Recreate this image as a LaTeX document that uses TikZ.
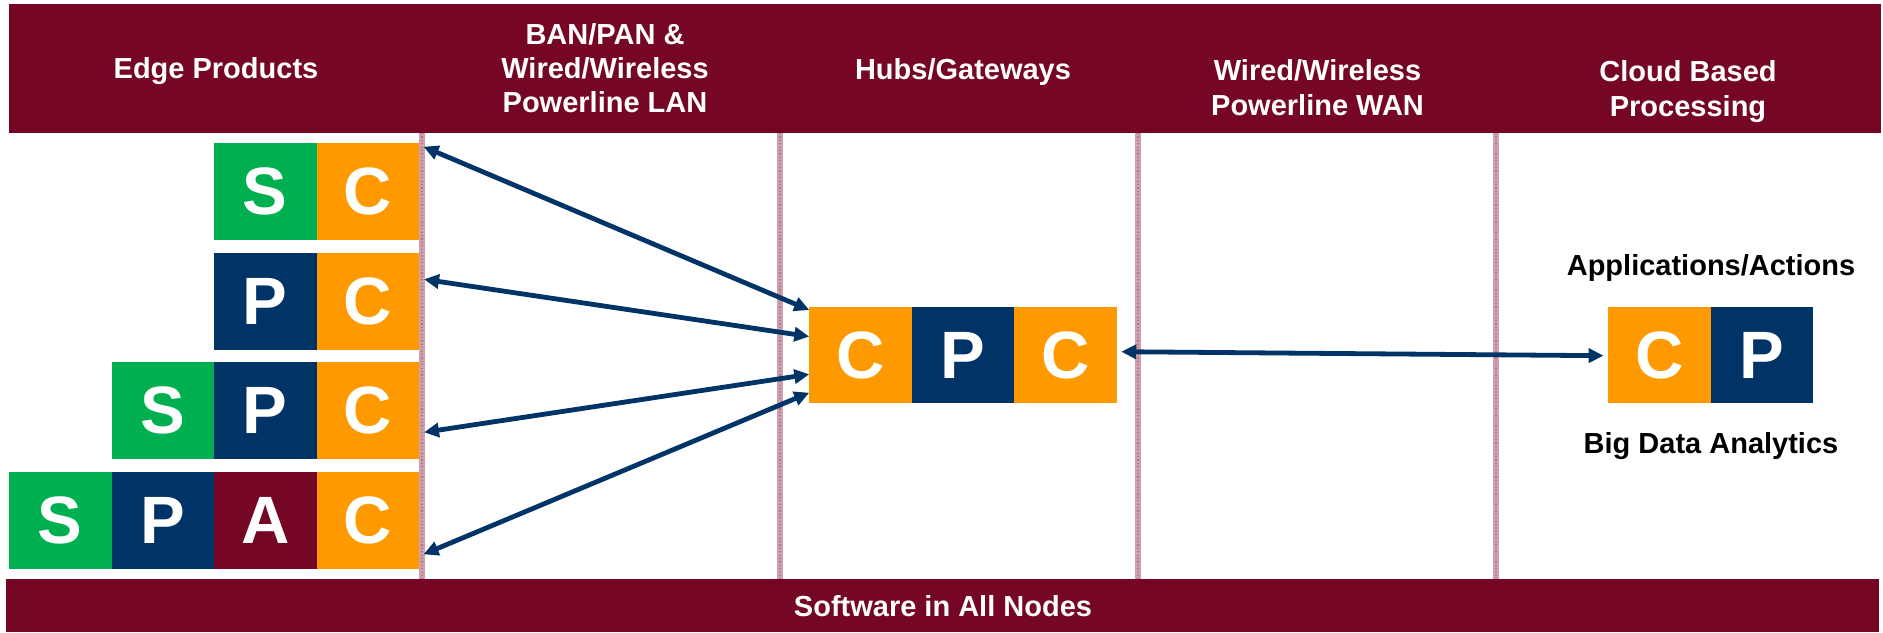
\documentclass[tikz,border=0pt]{standalone}
\usepackage{fontspec}
\setmainfont{Liberation Sans}
\usetikzlibrary{arrows.meta}

\definecolor{wine}{RGB}{117,6,36}
\definecolor{navy}{RGB}{0,51,102}
\definecolor{amber}{RGB}{255,153,0}
\definecolor{leaf}{RGB}{0,176,80}
\definecolor{rule}{RGB}{205,160,170}

\tikzset{
  cell/.style={minimum width=51.25pt, minimum height=48.25pt, inner sep=0pt,
    outer sep=0pt, text=white, font=\bfseries\fontsize{33.5}{36}\selectfont},
  sensor/.style={cell, fill=leaf},
  proc/.style={cell, fill=navy},
  act/.style={cell, fill=wine},
  comm/.style={cell, fill=amber},
  title/.style={text=white, inner sep=0pt, anchor=base,
    font=\bfseries\fontsize{14.5}{17}\selectfont},
  caption/.style={title, text=black},
  link/.style={draw=navy, line width=2.4pt,
    {Triangle[length=7.5pt,width=7pt]}-{Triangle[length=7.5pt,width=7pt]}},
  divider/.style={draw=rule, line width=2.6pt},
  dividerdots/.style={draw=wine!55, line width=1.1pt, dash pattern=on 0.6pt off 1.1pt}
}

\begin{document}
\begin{tikzpicture}[x=0.5pt, y=-0.5pt]
\useasboundingbox (0,0) rectangle (1883,632);

% header and footer bands
\fill[wine] (9,4) rectangle (1881,133);
\fill[wine] (6,579) rectangle (1879,632);

% column separators
\foreach \x in {422,780,1138,1496} {
  \draw[divider] (\x,133) -- (\x,579);
  \draw[dividerdots] (\x,133) -- (\x,579);
}

% column titles
\node[title] (tEdge) at (216,78) {Edge Products};
\node[title] (tLanA) at (605,44) {BAN/PAN \&};
\node[title] (tLanB) at (605,78) {Wired/Wireless};
\node[title] (tLanC) at (605,112) {Powerline LAN};
\node[title] (tHub) at (963,79) {Hubs/Gateways};
\node[title] (tWanA) at (1317.5,80) {Wired/Wireless};
\node[title] (tWanB) at (1317.5,115) {Powerline WAN};
\node[title] (tCloudA) at (1688,81) {Cloud Based};
\node[title] (tCloudB) at (1688,116) {Processing};
\node[title] (tSoft) at (943,616.5) {Software in All Nodes};

% edge products
\node[sensor] (s1) at (265.25,191.5) {S};
\node[comm]   (c1) at (367.75,191.5) {C};

\node[proc]   (p2) at (265.25,301.5) {P};
\node[comm]   (c2) at (367.75,301.5) {C};

\node[sensor] (s3) at (162.75,410.5) {S};
\node[proc]   (p3) at (265.25,410.5) {P};
\node[comm]   (c3) at (367.75,410.5) {C};

\node[sensor] (s4) at (60.25,520.5) {S};
\node[proc]   (p4) at (162.75,520.5) {P};
\node[act]    (a4) at (265.25,520.5) {A};
\node[comm]   (c4) at (367.75,520.5) {C};

% hub / gateway
\node[comm] (h1) at (860.5,355) {C};
\node[proc] (h2) at (963,355) {P};
\node[comm] (h3) at (1065.5,355) {C};

% cloud processing
\node[comm] (k1) at (1659.5,355) {C};
\node[proc] (k2) at (1762,355) {P};
\node[caption] (tApps) at (1711,275) {Applications/Actions};
\node[caption] (tData) at (1711,453.5) {Big Data Analytics};

% links
\draw[link] ([shift={(4.5,-44.8)}]c1.east) -- ([shift={(0,-45)}]h1.west);
\draw[link] ([shift={(5,-22.2)}]c2.east) -- ([shift={(0,-18.5)}]h1.west);
\draw[link] ([shift={(5,21.8)}]c3.east) -- ([shift={(0,19.3)}]h1.west);
\draw[link] ([shift={(4.5,33.8)}]c4.east) -- ([shift={(0,37.7)}]h1.west);
\draw[link] ([shift={(4.5,-3.3)}]h3.east) -- ([shift={(-4.7,0.7)}]k1.west);
\end{tikzpicture}
\end{document}
